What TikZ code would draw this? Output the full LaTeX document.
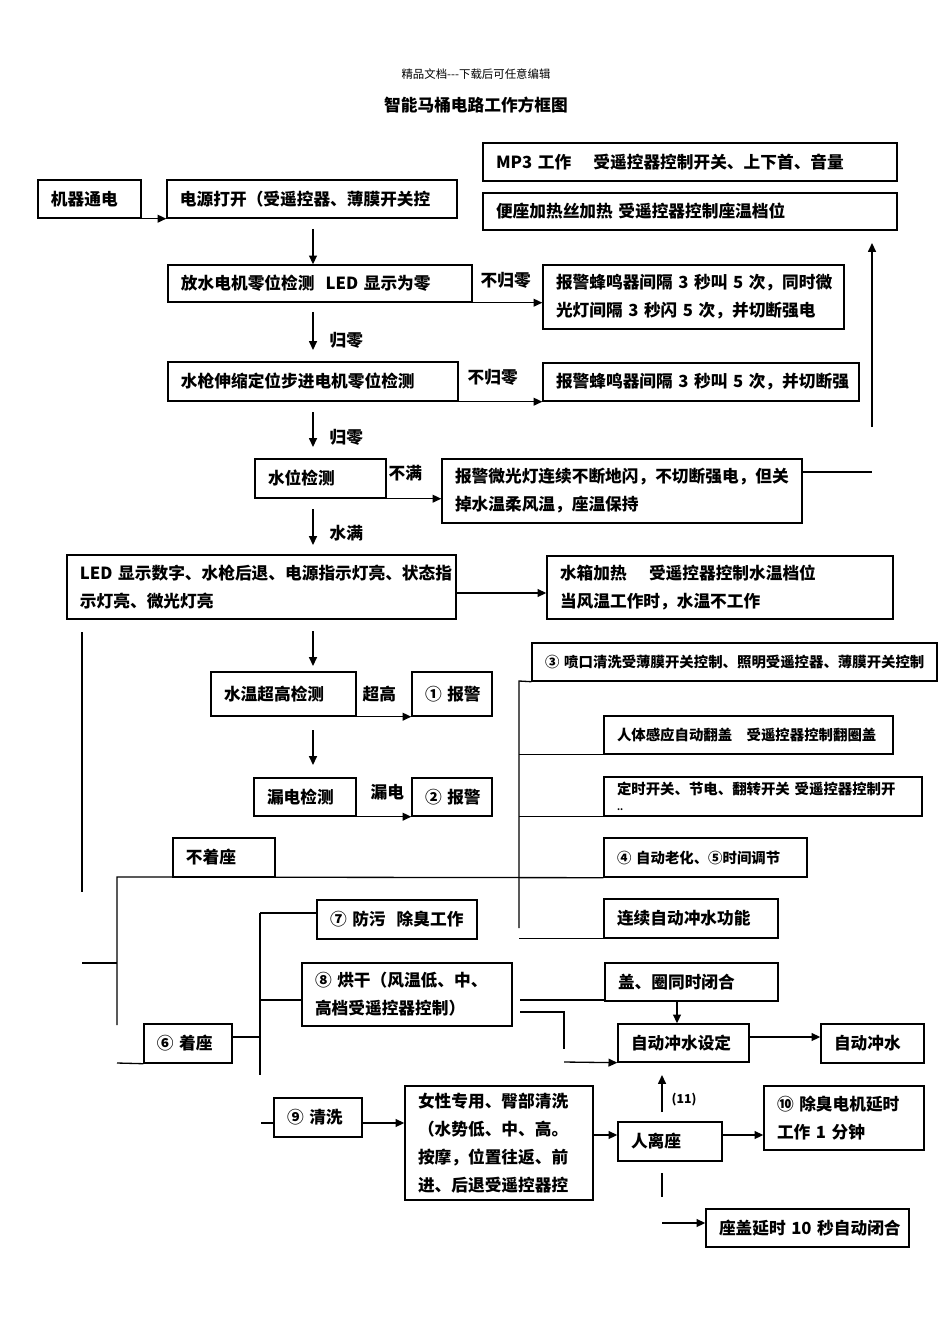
\documentclass[tikz,border=0pt]{standalone}
\usepackage{fontspec}
\setmainfont{Noto Sans CJK SC}
\usetikzlibrary{arrows.meta}

\begin{document}
\begin{tikzpicture}[line width=0.75pt,>={Triangle[length=5pt,width=4.5pt]},
  x={(0.02cm,0cm)}, y={(0cm,-0.02cm)}]
\tikzset{box/.style={draw,line width=0.8pt,align=left,inner xsep=0.26cm,inner ysep=1pt,
    font=\bfseries\fontsize{9.5}{15.9}\selectfont},
  smalltxt/.style={font=\bfseries\fontsize{8.2}{12}\selectfont},
  lbl/.style={anchor=west,inner sep=0pt,font=\bfseries\fontsize{9.5}{12}\selectfont}}
\useasboundingbox (0,0) rectangle (950,1344);
% box from its corners: [style]{name}{x1}{y1}{x2}{y2}{text}
\newcommand\bx[7][]{%
  \pgfmathsetmacro\bxw{(#5-#3)*0.02}\pgfmathsetmacro\bxh{(#6-#4)*0.02}%
  \pgfmathsetmacro\bxt{(#5-#3)*0.02-0.52}%
  \node[box,#1,minimum width=\bxw cm,minimum height=\bxh cm,text width=\bxt cm]
    (#2) at ({(#3+#5)/2},{(#4+#6)/2}) {#7};}
% ---------- heading ----------
\node[font=\fontsize{6.5}{8}\selectfont] (hdr) at (476,74) {精品文档-{}-{}-下载后可任意编辑};
\node[font=\bfseries\fontsize{9.5}{12}\selectfont] (ttl) at (476,105) {智能马桶电路工作方框图};
% ---------- start-up chain ----------
\bx{pw}{38}{180}{141}{218}{机器通电}
\bx{on}{167}{180}{457}{218}{电源打开（受遥控器、薄膜开关控}
\bx{mp3}{483}{143}{897}{181}{MP3~工作~~~~受遥控器控制开关、上下首、音量}
\bx{seat}{483}{193}{897}{230}{便座加热丝加热~受遥控器控制座温档位}
\bx{zero1}{168}{265}{472}{302}{放水电机零位检测~~LED~显示为零}
\bx{alarm1}{543}{265}{844}{329}{报警蜂鸣器间隔~3~秒叫~5~次，同时微\\光灯间隔~3~秒闪~5~次，并切断强电}
\bx{gun}{168}{362}{458}{401}{水枪伸缩定位步进电机零位检测}
\bx{alarm2}{543}{363}{859}{401}{报警蜂鸣器间隔~3~秒叫~5~次，并切断强}
\bx{level}{255}{459}{386}{498}{水位检测}
\bx{alarm3}{442}{459}{802}{523}{报警微光灯连续不断地闪，不切断强电，但关\\掉水温柔风温，座温保持}
\bx{led}{67}{555}{456}{619}{LED~显示数字、水枪后退、电源指示灯亮、状态指\\示灯亮、微光灯亮}
\bx{tank}{547}{556}{893}{619}{水箱加热~~~~受遥控器控制水温档位\\当风温工作时，水温不工作}
\bx{hot}{211}{672}{356}{716}{水温超高检测}
\bx{al1}{412}{672}{492}{716}{①~报警}
\bx{leak}{254}{778}{356}{816}{漏电检测}
\bx{al2}{412}{778}{492}{816}{②~报警}
% ---------- function column ----------
\bx[smalltxt]{nozzle}{532}{643}{937}{681}{③~喷口清洗受薄膜开关控制、照明受遥控器、薄膜开关控制\\[2pt]}
\bx[smalltxt]{sense}{604}{716}{893}{754}{人体感应自动翻盖~~~受遥控器控制翻圈盖}
\bx[smalltxt]{timer}{604}{777}{922}{816}{定时开关、节电、翻转开关~受遥控器控制开\\[-3pt]{\tiny ..}}
\bx[smalltxt]{aging}{604}{838}{807}{877}{④~自动老化、⑤时间调节}
\bx{cont}{604}{899}{778}{938}{连续自动冲水功能}
% ---------- seat branches ----------
\bx{unseat}{173}{838}{275}{877}{不着座}
\bx{seated}{144}{1024}{232}{1063}{⑥~着座}
\bx{odor}{317}{900}{477}{939}{⑦~防污~~除臭工作}
\bx{dry}{302}{963}{512}{1026}{⑧~烘干（风温低、中、\\高档受遥控器控制）}
\bx{lid}{605}{963}{778}{1001}{盖、圈同时闭合}
\bx{fset}{618}{1024}{749}{1062}{自动冲水设定}
\bx{flush}{821}{1024}{924}{1063}{自动冲水}
\bx{wash}{274}{1098}{362}{1137}{⑨~清洗}
\bx{lady}{405}{1086}{593}{1200}{女性专用、臀部清洗\\（水势低、中、高。\\按摩，位置往返、前\\进、后退受遥控器控}
\bx{leave}{618}{1122}{722}{1161}{人离座}
\bx{deo}{764}{1086}{924}{1150}{⑩~除臭电机延时\\工作~1~分钟}
\bx{close}{706}{1209}{909}{1247}{座盖延时~10~秒自动闭合}
% ---------- labels ----------
\node[lbl] (nz1) at (480,280) {不归零};
\node[lbl] (gz1) at (329,340) {归零};
\node[lbl] (nz2) at (467,377) {不归零};
\node[lbl] (gz2) at (329,437) {归零};
\node[lbl] (nf) at (388,473) {不满};
\node[lbl] (wf) at (329,533) {水满};
\node[lbl] (ov) at (362,694) {超高};
\node[lbl] (lk) at (370,792) {漏电};
\node[lbl,font=\bfseries\fontsize{7}{8}\selectfont] (n11) at (671,1100) {(11)};
% ---------- free ends ----------
\coordinate (a1) at (313,229);  \coordinate (a2) at (313,312);  \coordinate (a3) at (313,350);
\coordinate (a4) at (313,412);  \coordinate (a5) at (313,447);  \coordinate (a6) at (313,509);
\coordinate (a7) at (313,545);  \coordinate (a8) at (313,631);  \coordinate (a9) at (313,666);
\coordinate (a10) at (313,730); \coordinate (a11) at (313,765);
\coordinate (r1) at (872,472);  \coordinate (r2) at (872,427);  \coordinate (r3) at (872,243);
\coordinate (m1) at (500,593);
\coordinate (l1) at (82,632);   \coordinate (l2) at (82,892);   \coordinate (l3) at (82,963);
\coordinate (l4) at (117,877);  \coordinate (l5) at (117,1025); \coordinate (l6) at (117,1063);
\coordinate (c1) at (519,681);  \coordinate (c2) at (519,928);
\coordinate (b1) at (260,1037); \coordinate (b2) at (260,913);  \coordinate (b3) at (260,1075);
\coordinate (b4) at (260,1000);
\coordinate (d1) at (520,1000); \coordinate (d2) at (520,1012); \coordinate (d3) at (564,1049);
\coordinate (d4) at (564,1062); \coordinate (d5) at (677,1001);
\coordinate (e1) at (662,1112); \coordinate (e2) at (662,1075); \coordinate (e3) at (662,1173);
\coordinate (e4) at (662,1197); \coordinate (e5) at (662,1223);
\coordinate (w1) at (261,1123); \coordinate (w2) at (0,1135);
% ---------- connectors ----------
\draw[->] (pw.south east) -- (pw.south east -| on.west);
\draw[->] (a1) -- (a1 |- zero1.north);
\draw[->] (zero1.south east) -- (zero1.south east -| alarm1.west);
\draw[->] (a2) -- (a3);
\draw[->] (gun.south east) -- (gun.south east -| alarm2.west);
\draw[->] (a4) -- (a5);
\draw[->] (level.south east) -- (level.south east -| alarm3.west);
\draw (r1 -| alarm3.east) -- (r1);
\draw[->] (r2) -- (r3);
\draw[->] (a6) -- (a7);
\draw[->] (m1 -| led.east) -- (m1 -| tank.west);
\draw (l1) -- (l2);
\draw[->] (a8) -- (a9);
\draw[->] (hot.south east) -- (hot.south east -| al1.west);
\draw[->] (a10) -- (a11);
\draw[->] (leak.south east) -- (leak.south east -| al2.west);
% function column
\draw (nozzle.south west) -- (c1) -- (c2);
\draw (c1 |- sense.south) -- (sense.south west);
\draw (c1 |- timer.south) -- (timer.south west);
\draw (c1 |- cont.south) -- (cont.south west);
% seat branches
\draw (l5) -- (l4) -- (aging.south west);
\draw (l3) -- (l3 -| l4);
\draw (l6) -- (seated.south west);
\draw (b1 -| seated.east) -- (b1);
\draw (b2) -- (b3);
\draw (b2) -- (b2 -| odor.west);
\draw (b4) -- (b4 -| dry.west);
\draw (d1) -- (d1 -| lid.west);
\draw (d2) -- (d2 -| d3) -- (d3);
\draw[->] (d4) -- (fset.south west);
\draw[->] (d5) -- (d5 |- fset.north);
\draw[->] (b1 -| fset.east) -- (b1 -| flush.west);
\draw[->] (e1) -- (e2);
\draw (w1) -- (w1 -| wash.west);
\draw[->] (w1 -| wash.east) -- (w1 -| lady.west);
\draw[->] (w2 -| lady.east) -- (w2 -| leave.west);
\draw[->] (w2 -| leave.east) -- (w2 -| deo.west);
\draw (e3) -- (e4);
\draw[->] (e5) -- (e5 -| close.west);
\end{tikzpicture}
\end{document}
